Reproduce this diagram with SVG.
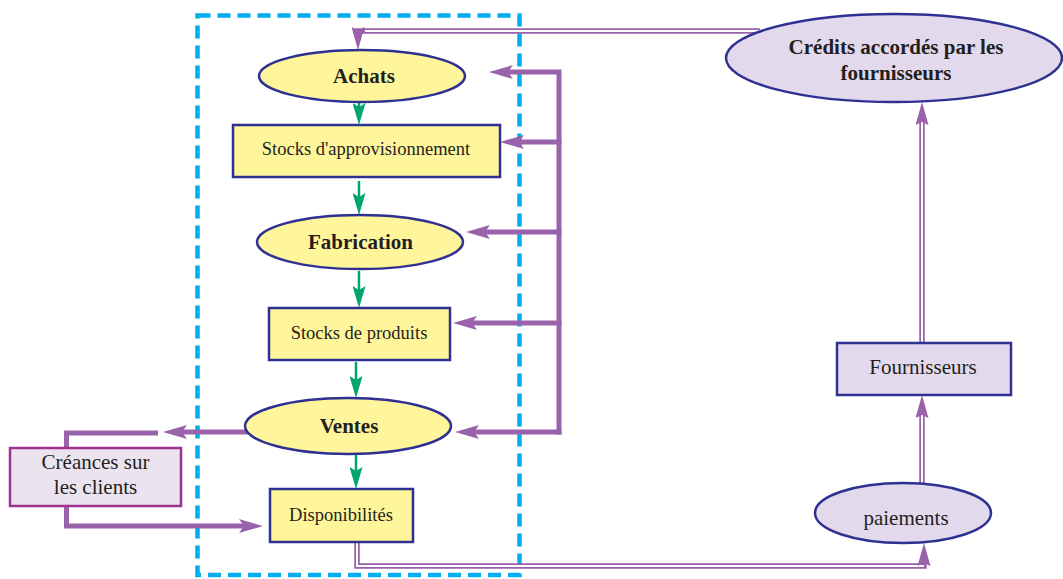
<svg xmlns="http://www.w3.org/2000/svg" width="1063" height="579" viewBox="0 0 1063 579">
<style>
  text { font-family: "Liberation Serif", "Times New Roman", serif; fill: #231f20; text-anchor: middle; }
  .b { font-weight: bold; font-size: 21px; }
  .r { font-size: 18.5px; }
  .r21 { font-size: 21px; }
  .yel { fill: #fff59a; stroke: #2e3192; stroke-width: 2.5; }
  .lav { fill: #e3d9ec; stroke: #2e3192; stroke-width: 2.5; }
  .mag { fill: #ece3f0; stroke: #a0328f; stroke-width: 2.5; }
  .thick { fill: none; stroke: #9a62ab; stroke-width: 5; }
  .green { fill: none; stroke: #00a66e; stroke-width: 2.5; }
  .dblo { fill: none; stroke: #9a62ab; stroke-width: 5.5; }
  .dbli { fill: none; stroke: #ffffff; stroke-width: 2; }
  .head { fill: none; stroke: none; }
</style>
<defs>
  <marker id="pa" viewBox="0 0 24 14" refX="14" refY="7" markerWidth="24" markerHeight="14" markerUnits="userSpaceOnUse" orient="auto">
    <path d="M0,0 L24,7 L0,14 L5,7 Z" fill="#9a62ab"/>
  </marker>
  <marker id="ga" viewBox="0 0 22 13" refX="13" refY="6.5" markerWidth="22" markerHeight="13" markerUnits="userSpaceOnUse" orient="auto">
    <path d="M0,0 L22,6.5 L0,13 L4,6.5 Z" fill="#00a66e"/>
  </marker>
  <marker id="da" viewBox="0 0 23 13" refX="23" refY="6.5" markerWidth="23" markerHeight="13" markerUnits="userSpaceOnUse" orient="auto">
    <path d="M0,0 L23,6.5 L0,13 L3,6.5 Z" fill="#9a62ab"/>
  </marker>
</defs>

<rect id="boundary" x="197.5" y="15.5" width="322" height="559.5" fill="none" stroke="#00aeef" stroke-width="4.5" stroke-dasharray="13 7"/>

<g id="connectors">
  <!-- green flow -->
  <path class="green" d="M359,102 V116" marker-end="url(#ga)"/>
  <path class="green" d="M359,181 V206" marker-end="url(#ga)"/>
  <path class="green" d="M359,271 V299" marker-end="url(#ga)"/>
  <path class="green" d="M356,362 V389" marker-end="url(#ga)"/>
  <path class="green" d="M356,455 V480" marker-end="url(#ga)"/>

  <!-- thick purple trunk and branches -->
  <path class="thick" d="M559,434.5 V72 H499" marker-end="url(#pa)"/>
  <path class="thick" d="M561.5,142 H510" marker-end="url(#pa)"/>
  <path class="thick" d="M561.5,232 H476" marker-end="url(#pa)"/>
  <path class="thick" d="M561.5,323 H463" marker-end="url(#pa)"/>
  <path class="thick" d="M561.5,432 H465" marker-end="url(#pa)"/>

  <!-- ventes to creances -->
  <path class="thick" d="M248,432 H173" marker-end="url(#pa)"/>
  <path class="thick" d="M158,433 H66.5 V448"/>
  <path class="thick" d="M66.5,506 V526 H253" marker-end="url(#pa)"/>

  <!-- double lines -->
  <path class="dblo" d="M760,31 H358 V40"/>
  <path class="dbli" d="M760,31 H365"/>
  <path class="head" d="M358,40 V50" marker-end="url(#da)"/>

  <path class="dblo" d="M357,542 V566 H924 V562"/>
  <path class="dbli" d="M357,542 V566 H924"/>
  <path class="head" d="M924,553 V543" marker-end="url(#da)"/>

  <path class="dblo" d="M922,484 V414"/>
  <path class="dbli" d="M922,484 V414"/>
  <path class="head" d="M922,405 V395" marker-end="url(#da)"/>

  <path class="dblo" d="M922,343 V122"/>
  <path class="dbli" d="M922,343 V122"/>
  <path class="head" d="M922,112 V102" marker-end="url(#da)"/>
</g>

<g id="achats">
  <ellipse class="yel" cx="362" cy="76" rx="103" ry="26"/>
  <text class="b" x="364" y="83">Achats</text>
</g>
<g id="stocks-appro">
  <rect class="yel" x="233" y="125" width="267" height="52"/>
  <text class="r" x="366" y="155">Stocks d'approvisionnement</text>
</g>
<g id="fabrication">
  <ellipse class="yel" cx="360" cy="242" rx="103" ry="27"/>
  <text class="b" x="360.5" y="249">Fabrication</text>
</g>
<g id="stocks-produits">
  <rect class="yel" x="269" y="308" width="181" height="52"/>
  <text class="r" x="359" y="339">Stocks de produits</text>
</g>
<g id="ventes">
  <ellipse class="yel" cx="348" cy="426" rx="103" ry="28"/>
  <text class="b" x="349" y="433">Ventes</text>
</g>
<g id="disponibilites">
  <rect class="yel" x="270" y="489" width="143" height="53"/>
  <text class="r" x="341" y="521">Disponibilités</text>
</g>
<g id="creances">
  <rect class="mag" x="10" y="448" width="171" height="58"/>
  <text class="r21" x="95.5" y="469">Créances sur</text>
  <text class="r21" x="95.5" y="494">les clients</text>
</g>
<g id="credits">
  <ellipse class="lav" cx="894" cy="58" rx="168" ry="44"/>
  <text class="b" x="896" y="54">Crédits accordés par les</text>
  <text class="b" x="896" y="80">fournisseurs</text>
</g>
<g id="fournisseurs">
  <rect class="lav" x="837" y="343" width="174" height="52"/>
  <text class="r21" x="923" y="374">Fournisseurs</text>
</g>
<g id="paiements">
  <ellipse class="lav" cx="903" cy="513" rx="88" ry="30"/>
  <text class="r21" x="906" y="525">paiements</text>
</g>
</svg>
